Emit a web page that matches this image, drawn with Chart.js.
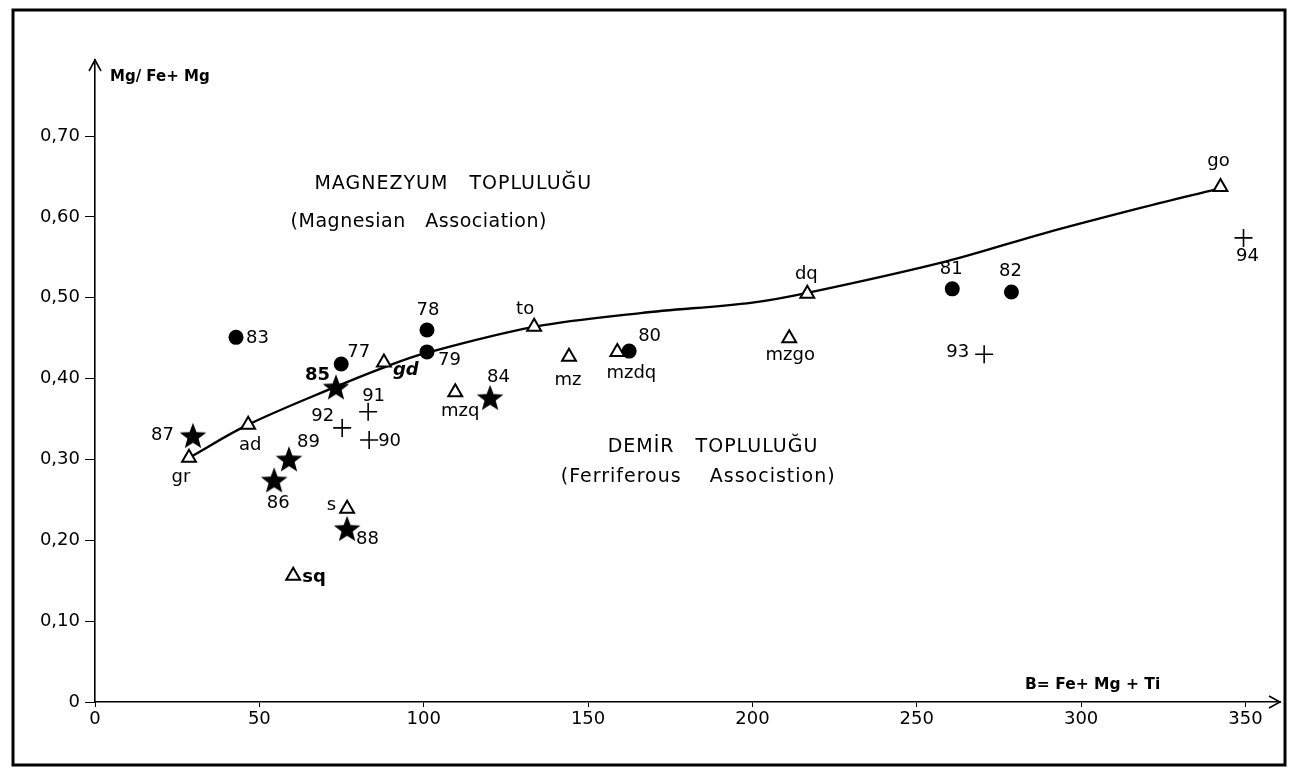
<!DOCTYPE html>
<html>
<head>
<meta charset="utf-8">
<script src="https://cdn.jsdelivr.net/npm/chart.js@4"></script>
<style>
html,body{margin:0;padding:0;background:#fff;}
#wrap{width:1295px;height:775px;position:relative;}
</style>
</head>
<body>
<div id="wrap"><canvas id="c" width="1295" height="775"></canvas></div>
<script>
// ---- DATA ----
const xTicks = [0, 50, 100, 150, 200, 250, 300, 350];
const xTickLabels = ['0', '50', '100', '150', '200', '250', '300', '350'];
const yTicks = [0, 0.1, 0.2, 0.3, 0.4, 0.5, 0.6, 0.7];
const yTickLabels = ['0', '0,10', '0,20', '0,30', '0,40', '0,50', '0,60', '0,70'];

// filled circles
const circleLabels = ['83', '77', '78', '79', '80', '81', '82'];
const circleX = [42.9, 74.9, 101.0, 101.0, 162.5, 260.8, 278.8];
const circleY = [0.451, 0.418, 0.460, 0.433, 0.434, 0.511, 0.507];

// stars
const starLabels = ['87', '85', '89', '86', '88', '84'];
const starX = [29.8, 73.3, 59.0, 54.5, 76.7, 120.2];
const starY = [0.328, 0.388, 0.299, 0.273, 0.213, 0.375];

// crosses
const crossLabels = ['92', '91', '90', '93', '94'];
const crossX = [75.2, 83.1, 83.4, 270.5, 349.4];
const crossY = [0.339, 0.359, 0.324, 0.430, 0.574];

// rock-type triangles
const triLabels = ['gr', 'ad', 'gd', 'to', 'mzq', 'mz', 'mzdq', 'mzgo', 'dq', 'go', 's', 'sq'];
const triX = [28.6, 46.6, 87.9, 133.6, 109.6, 144.2, 158.9, 211.2, 216.7, 342.4, 76.7, 60.3];
const triY = [0.302, 0.343, 0.420, 0.464, 0.383, 0.427, 0.433, 0.450, 0.505, 0.637, 0.239, 0.156];

// trend curve
const curveX = [28.6, 46.6, 73.3, 88.0, 101.0, 133.6, 166.0, 200.0, 216.7, 259.0, 289.0, 319.0, 341.0];
const curveY = [0.302, 0.343, 0.390, 0.414, 0.432, 0.464, 0.481, 0.494, 0.506, 0.545, 0.580, 0.612, 0.634];

const xTitle = 'B= Fe+ Mg + Ti';
const yTitle = 'Mg/ Fe+ Mg';
const zoneTexts = [
  {t: 'MAGNEZYUM   TOPLULUĞU', x: 109, y: 0.641, sp: 1},
  {t: '(Magnesian   Association)', x: 98.5, y: 0.594, sp: 0.5},
  {t: 'DEMİR   TOPLULUĞU', x: 188, y: 0.315, sp: 1},
  {t: '(Ferriferous    Associstion)', x: 183.5, y: 0.278, sp: 1}
];

// ---- STYLE (label offsets in pixels, keyed by label) ----
const labelOffsets = {
  '83': [10, 1, 'left'], '77': [6, -12, 'left'], '78': [1, -20, 'center'], '79': [11, 8, 'left'],
  '80': [9, -15, 'left'], '81': [-1, -19, 'center'], '82': [-1, -21, 'center'],
  '87': [-19, -1, 'right'], '85': [-31, -13, 'left'], '89': [8, -18, 'left'], '86': [4, 22, 'center'],
  '88': [9, 10, 'left'], '84': [-3, -21, 'left'],
  '92': [-8, -12, 'right'], '91': [-6, -15, 'left'], '90': [9, 1, 'left'], '93': [-15, -2, 'right'], '94': [4, 18, 'center'],
  'gr': [-8, 20, 'center'], 'ad': [2, 21, 'center'], 'gd': [9, 8, 'left'], 'to': [-9, -17, 'center'],
  'mzq': [5, 19, 'center'], 'mz': [-1, 24, 'center'], 'mzdq': [14, 21, 'center'], 'mzgo': [1, 17, 'center'],
  'dq': [-1, -19, 'center'], 'go': [-2, -26, 'center'], 's': [-11, -3, 'right'], 'sq': [9, 1, 'left']
};

function toPts(xs, ys) { return xs.map((x, i) => ({x: x, y: ys[i]})); }

// filled star point image
function makeStar(R) {
  const c = document.createElement('canvas');
  c.width = 2 * R + 2; c.height = 2 * R + 2;
  const g = c.getContext('2d');
  g.translate(R + 1, R + 1);
  g.beginPath();
  for (let i = 0; i < 10; i++) {
    const r = i % 2 === 0 ? R : R * 0.42;
    const a = -Math.PI / 2 + i * Math.PI / 5;
    const px = r * Math.cos(a), py = r * Math.sin(a);
    if (i === 0) g.moveTo(px, py); else g.lineTo(px, py);
  }
  g.closePath();
  g.fillStyle = '#000';
  g.fill();
  return c;
}
const starImg = makeStar(14);

const FONT = '"DejaVu Sans", "Liberation Sans", sans-serif';

const decor = {
  id: 'decor',
  afterDatasetsDraw(chart) {
    const ctx = chart.ctx;
    const xs = chart.scales.x, ys = chart.scales.y;
    const ca = chart.chartArea;
    ctx.save();
    // frame
    ctx.strokeStyle = '#000';
    ctx.lineWidth = 3;
    ctx.strokeRect(13, 10, 1272, 755);
    // arrows
    ctx.lineWidth = 1.6;
    ctx.beginPath();
    ctx.moveTo(ca.left - 6, ca.top + 11); ctx.lineTo(ca.left, ca.top); ctx.lineTo(ca.left + 6, ca.top + 11);
    ctx.stroke();
    ctx.beginPath();
    ctx.moveTo(ca.right - 11, ca.bottom - 6); ctx.lineTo(ca.right, ca.bottom); ctx.lineTo(ca.right - 11, ca.bottom + 6);
    ctx.stroke();
    // axis titles
    ctx.fillStyle = '#000';
    ctx.font = 'bold 15px ' + FONT;
    ctx.textBaseline = 'middle';
    ctx.textAlign = 'left';
    ctx.fillText(yTitle, ca.left + 15, 77);
    ctx.font = 'bold 15.5px ' + FONT;
    ctx.fillText(xTitle, 1025, 685);
    // zone texts
    ctx.font = '19px ' + FONT;
    ctx.textAlign = 'center';
    zoneTexts.forEach(z => {
      ctx.letterSpacing = z.sp + 'px';
      ctx.fillText(z.t, xs.getPixelForValue(z.x), ys.getPixelForValue(z.y));
    });
    ctx.letterSpacing = '0px';
    // point labels
    const groups = [
      [circleLabels, circleX, circleY], [starLabels, starX, starY],
      [crossLabels, crossX, crossY], [triLabels, triX, triY]
    ];
    groups.forEach(([labs, gx, gy]) => {
      labs.forEach((lab, i) => {
        const o = labelOffsets[lab] || [0, -16, 'center'];
        const px = xs.getPixelForValue(gx[i]), py = ys.getPixelForValue(gy[i]);
        ctx.textAlign = o[2];
        if (lab === 'gd') ctx.font = 'italic bold 18px ' + FONT;
        else if (lab === 'sq' || lab === '85') ctx.font = 'bold 18px ' + FONT;
        else ctx.font = '18px ' + FONT;
        ctx.fillText(lab, px + o[0], py + o[1]);
      });
    });
    ctx.restore();
  }
};

new Chart(document.getElementById('c'), {
  type: 'scatter',
  data: {
    datasets: [
      {
        type: 'line', data: toPts(curveX, curveY), borderColor: '#000', borderWidth: 2.4,
        pointRadius: 0, tension: 0.35, fill: false, order: 5
      },
      {
        data: toPts(triX, triY), pointStyle: 'triangle', pointRadius: 8,
        backgroundColor: '#fff', borderColor: '#000', borderWidth: 2, order: 1
      },
      {
        data: toPts(circleX, circleY), pointStyle: 'circle', pointRadius: 7.5,
        backgroundColor: '#000', borderColor: '#000', borderWidth: 0, order: 1
      },
      {
        data: toPts(starX, starY), pointStyle: starImg, pointRadius: 14, order: 1
      },
      {
        data: toPts(crossX, crossY), pointStyle: 'cross', pointRadius: 9,
        borderColor: '#000', borderWidth: 1.6, order: 1
      }
    ]
  },
  options: {
    responsive: false,
    animation: false,
    events: [],
    layout: {padding: {top: 60, right: 15, left: 0, bottom: 0}},
    plugins: {legend: {display: false}, tooltip: {enabled: false}},
    scales: {
      x: {
        type: 'linear', min: 0, max: 360.5,
        afterFit(s) { s.height = 73; },
        afterBuildTicks(s) { s.ticks = xTicks.map(v => ({value: v})); },
        border: {display: true, color: '#000', width: 1.6},
        grid: {display: true, drawOnChartArea: false, drawTicks: true, tickLength: 5, color: '#000', lineWidth: 1},
        ticks: {
          color: '#000', font: {family: FONT, size: 18}, padding: 2, maxRotation: 0, autoSkip: false,
          callback(v) { const i = xTicks.indexOf(v); return i >= 0 ? xTickLabels[i] : ''; }
        }
      },
      y: {
        type: 'linear', min: 0, max: 0.794,
        afterFit(s) { s.width = 95; },
        afterBuildTicks(s) { s.ticks = yTicks.map(v => ({value: v})); },
        border: {display: true, color: '#000', width: 1.6},
        grid: {display: true, drawOnChartArea: false, drawTicks: true, tickLength: 10, color: '#000', lineWidth: 1},
        ticks: {
          color: '#000', font: {family: FONT, size: 18}, padding: 5, autoSkip: false,
          callback(v) { const i = yTicks.findIndex(t => Math.abs(t - v) < 1e-9); return i >= 0 ? yTickLabels[i] : ''; }
        }
      }
    }
  },
  plugins: [decor]
});
</script>
</body>
</html>
